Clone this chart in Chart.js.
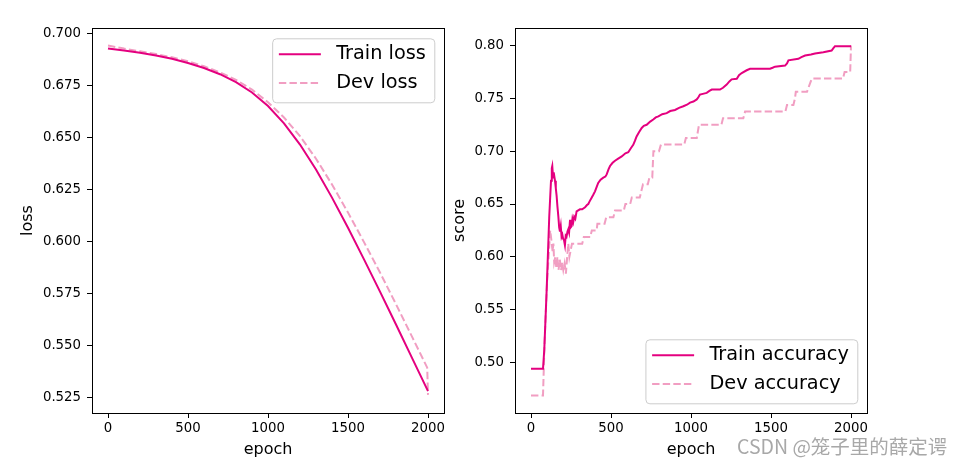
<!DOCTYPE html>
<html>
<head>
<meta charset="utf-8">
<script src="https://cdn.jsdelivr.net/npm/chart.js@4.4.1/dist/chart.umd.min.js"></script>
<style>
  body { margin: 0; background: #fff; }
  #wrap { position: relative; width: 963px; height: 465px; overflow: hidden; background: #fff; }
  canvas { position: absolute; top: 0; }
  #mark {
    position: absolute; left: 737px; top: 436px;
    font: 19.5px "Noto Sans CJK SC", "Noto Sans", sans-serif; line-height: 20px;
    color: #a8a8a8; white-space: nowrap;
  }
</style>
</head>
<body>
<div id="wrap">
  <canvas id="lossChart" width="470" height="465" style="left:0"></canvas>
  <canvas id="accChart" width="518" height="465" style="left:445px"></canvas>
  <div id="mark">CSDN @笼子里的薛定谔</div>
</div>
<script>
// tick labels
const epochTicks = [0, 500, 1000, 1500, 2000];
const lossTicks = [0.525, 0.550, 0.575, 0.600, 0.625, 0.650, 0.675, 0.700];
const scoreTicks = [0.50, 0.55, 0.60, 0.65, 0.70, 0.75, 0.80];

// loss curves
const lossEpochs = [0, 100, 200, 300, 400, 500, 600, 700, 800, 900, 1000,
    1100, 1200, 1300, 1400, 1500, 1600, 1700, 1800, 1900, 2000];
const trainLoss = [0.6927, 0.6917, 0.6906, 0.6893, 0.6877, 0.6857, 0.6833, 0.6803, 0.6765, 0.6715, 0.6650,
    0.6567, 0.6465, 0.6345, 0.6210, 0.6065, 0.5913, 0.5758, 0.5600, 0.5440, 0.5280];
const devLossEpochs = [0, 100, 200, 300, 400, 500, 600, 700, 800, 900, 1000,
    1100, 1200, 1300, 1400, 1500, 1600, 1700, 1800, 1900, 1995, 2000];
const devLoss = [0.6941, 0.6926, 0.6913, 0.6900, 0.6884, 0.6865, 0.6841, 0.6812, 0.6776, 0.6729, 0.6668,
    0.6595, 0.6505, 0.6397, 0.6273, 0.6138, 0.5996, 0.5850, 0.5698, 0.5542, 0.5393, 0.5262];

// accuracy curves
const trainAccEpochs = [0, 75, 83, 98, 114, 125, 130, 133, 138, 142, 146, 150, 155, 160, 165, 171, 176, 181, 186, 191,
    196, 201, 206, 212, 217, 222, 228, 233, 238, 244, 249, 254, 259, 264, 270, 277, 285, 295, 306, 320,
    338, 350, 358, 368, 379, 390, 400, 410, 420, 435, 452, 465, 473, 485, 494, 510, 525, 545, 567, 590,
    608, 625, 639, 650, 660, 675, 692, 705, 723, 745, 764, 780, 796, 820, 848, 870, 900, 925, 952, 975,
    994, 1015, 1036, 1046, 1056, 1080, 1098, 1115, 1130, 1181, 1200, 1223, 1240, 1254, 1286, 1300, 1317, 1348, 1369, 1494,
    1510, 1525, 1588, 1600, 1609, 1671, 1690, 1713, 1750, 1775, 1827, 1879, 1890, 1900, 2000];
const trainAcc = [0.494, 0.494, 0.512, 0.569, 0.638, 0.672, 0.684, 0.686, 0.675, 0.680, 0.676, 0.672, 0.665, 0.658, 0.648, 0.638, 0.628, 0.624, 0.629, 0.619,
    0.621, 0.617, 0.616, 0.611, 0.620, 0.619, 0.624, 0.626, 0.623, 0.635, 0.628, 0.629, 0.636, 0.633, 0.638, 0.636, 0.643, 0.644, 0.645, 0.645,
    0.647, 0.649, 0.650, 0.653, 0.656, 0.659, 0.662, 0.666, 0.670, 0.673, 0.675, 0.676, 0.678, 0.683, 0.686, 0.689, 0.691, 0.693, 0.695, 0.698,
    0.699, 0.703, 0.706, 0.710, 0.714, 0.718, 0.722, 0.724, 0.725, 0.728, 0.730, 0.732, 0.733, 0.735, 0.736, 0.738, 0.739, 0.741, 0.7425, 0.744,
    0.746, 0.747, 0.749, 0.751, 0.7536, 0.7545, 0.7552, 0.757, 0.7583, 0.7583, 0.760, 0.763, 0.766, 0.768, 0.7685, 0.772, 0.774, 0.7766, 0.778, 0.778,
    0.779, 0.780, 0.781, 0.783, 0.786, 0.7874, 0.789, 0.7905, 0.7915, 0.7924, 0.7937, 0.7953, 0.7975, 0.7994, 0.7994];
const devAccEpochs = [0, 75, 85, 100, 110, 120, 128, 135, 140, 145, 152, 158, 165, 172, 180, 188, 195, 202, 210, 218,
    226, 233, 240, 248, 256, 320, 330, 370, 380, 410, 415, 460, 470, 515, 525, 580, 590, 620, 630, 680,
    690, 700, 730, 740, 758, 765, 800, 812, 958, 968, 1036, 1050, 1190, 1200, 1327, 1338, 1590, 1600, 1640, 1650,
    1655, 1725, 1740, 1755, 1950, 1960, 1995, 2000];
const devAcc = [0.46875, 0.46875, 0.52, 0.575, 0.60, 0.625, 0.615, 0.605, 0.6125, 0.595, 0.60, 0.59, 0.60, 0.5875, 0.5975, 0.5875, 0.595, 0.5875, 0.59375, 0.584,
    0.60, 0.6125, 0.60, 0.60625, 0.6125, 0.6125, 0.61875, 0.61875, 0.625, 0.625, 0.63125, 0.63125, 0.6375, 0.6375, 0.64375, 0.64375, 0.65, 0.65, 0.65625, 0.65625,
    0.6625, 0.66875, 0.66875, 0.675, 0.675, 0.70, 0.70, 0.70625, 0.70625, 0.7125, 0.7125, 0.725, 0.725, 0.73125, 0.73125, 0.7375, 0.7375, 0.74375, 0.74375, 0.75,
    0.75625, 0.75625, 0.7625, 0.76875, 0.76875, 0.775, 0.775, 0.80];

const trainColor = '#e4007f';
const devColor = '#f19ec2';
const fam = 'DejaVu Sans';

function pts(xs, ys) {
    return xs.map((x, i) => ({ x: x, y: ys[i] }));
}

// box round the plot + matplotlib style legend inside it
const frameAndLegend = {
    id: 'frameAndLegend',
    afterDraw(chart, args, opts) {
        const ctx = chart.ctx, a = chart.chartArea;
        ctx.save();
        ctx.strokeStyle = '#000';
        ctx.lineWidth = 1;
        ctx.strokeRect(a.left + 0.5, a.top + 0.5, a.right - a.left, a.bottom - a.top);

        const items = chart.data.datasets;
        ctx.font = '19.3px "' + fam + '"';
        const textW = Math.max(...items.map(d => ctx.measureText(d.label).width));
        const w = 64 + textW + 8.5;
        const h = 64;
        const x = a.right - 9.7 - w;
        const y = opts.corner === 'upper' ? a.top + 10.3 : a.bottom - 9.7 - h;
        ctx.beginPath();
        ctx.roundRect(x + 0.5, y + 0.5, w, h, 4);
        ctx.fillStyle = 'rgba(255,255,255,0.8)';
        ctx.fill();
        ctx.strokeStyle = '#cccccc';
        ctx.stroke();
        items.forEach((d, i) => {
            const cy = y + 16 + i * 28.7;
            ctx.beginPath();
            ctx.strokeStyle = d.borderColor;
            ctx.lineWidth = 2;
            ctx.setLineDash(d.borderDash || []);
            ctx.moveTo(x + 6.7, cy);
            ctx.lineTo(x + 48.7, cy);
            ctx.stroke();
            ctx.setLineDash([]);
            ctx.fillStyle = '#000';
            ctx.textBaseline = 'middle';
            ctx.fillText(d.label, x + 64, cy);
        });
        ctx.restore();
    }
};

function makeScales(yTicks, yMin, yMax, yTitle, digits, yWidth, titlePad) {
    const tickGrid = { display: true, drawOnChartArea: false, drawTicks: true, tickLength: 5, color: '#000', lineWidth: 1 };
    return {
        x: {
            type: 'linear', min: -100, max: 2100,
            afterBuildTicks: s => { s.ticks = epochTicks.map(v => ({ value: v })); },
            afterFit: s => { s.height = 52; s.paddingLeft = 0; s.paddingRight = 0; },
            grid: tickGrid,
            border: { display: false },
            ticks: { color: '#000', font: { family: fam, size: 13.3 }, padding: 3, maxRotation: 0, autoSkip: false,
                callback: v => String(v) },
            title: { display: true, text: 'epoch', color: '#000', font: { family: fam, size: 16 }, padding: { top: 0, bottom: 6 } }
        },
        y: {
            type: 'linear', min: yMin, max: yMax,
            afterBuildTicks: s => { s.ticks = yTicks.map(v => ({ value: v })); },
            afterFit: s => { s.width = yWidth; s.paddingTop = 0; s.paddingBottom = 0; },
            grid: tickGrid,
            border: { display: false },
            ticks: { color: '#000', font: { family: fam, size: 13.3 }, padding: 6, autoSkip: false,
                callback: v => Number(v).toFixed(digits) },
            title: { display: true, text: yTitle, color: '#000', font: { family: fam, size: 16 }, padding: { top: titlePad, bottom: 0 } }
        }
    };
}

function lineSet(label, data, color, dashed) {
    return {
        label: label,
        data: data,
        borderColor: color,
        backgroundColor: color,
        borderWidth: 2,
        borderDash: dashed ? [7.4, 3.2] : [],
        pointRadius: 0,
        fill: false,
        tension: 0
    };
}

new Chart(document.getElementById('lossChart'), {
    type: 'line',
    data: {
        datasets: [
            lineSet('Train loss', pts(lossEpochs, trainLoss), trainColor, false),
            lineSet('Dev loss', pts(devLossEpochs, devLoss), devColor, true)
        ]
    },
    options: {
        responsive: false,
        animation: false,
        layout: { padding: { top: 28, right: 26, bottom: 0, left: 0 } },
        plugins: { legend: { display: false }, tooltip: { enabled: false }, frameAndLegend: { corner: 'upper' } },
        scales: makeScales(lossTicks, 0.5175, 0.7025, 'loss', 3, 92, 18.4)
    },
    plugins: [frameAndLegend]
});

new Chart(document.getElementById('accChart'), {
    type: 'line',
    data: {
        datasets: [
            lineSet('Train accuracy', pts(trainAccEpochs, trainAcc), trainColor, false),
            lineSet('Dev accuracy', pts(devAccEpochs, devAcc), devColor, true)
        ]
    },
    options: {
        responsive: false,
        animation: false,
        layout: { padding: { top: 28, right: 96, bottom: 0, left: 0 } },
        plugins: { legend: { display: false }, tooltip: { enabled: false }, frameAndLegend: { corner: 'lower' } },
        scales: makeScales(scoreTicks, 0.4522, 0.8166, 'score', 2, 70, 5.4)
    },
    plugins: [frameAndLegend]
});
</script>
</body>
</html>
